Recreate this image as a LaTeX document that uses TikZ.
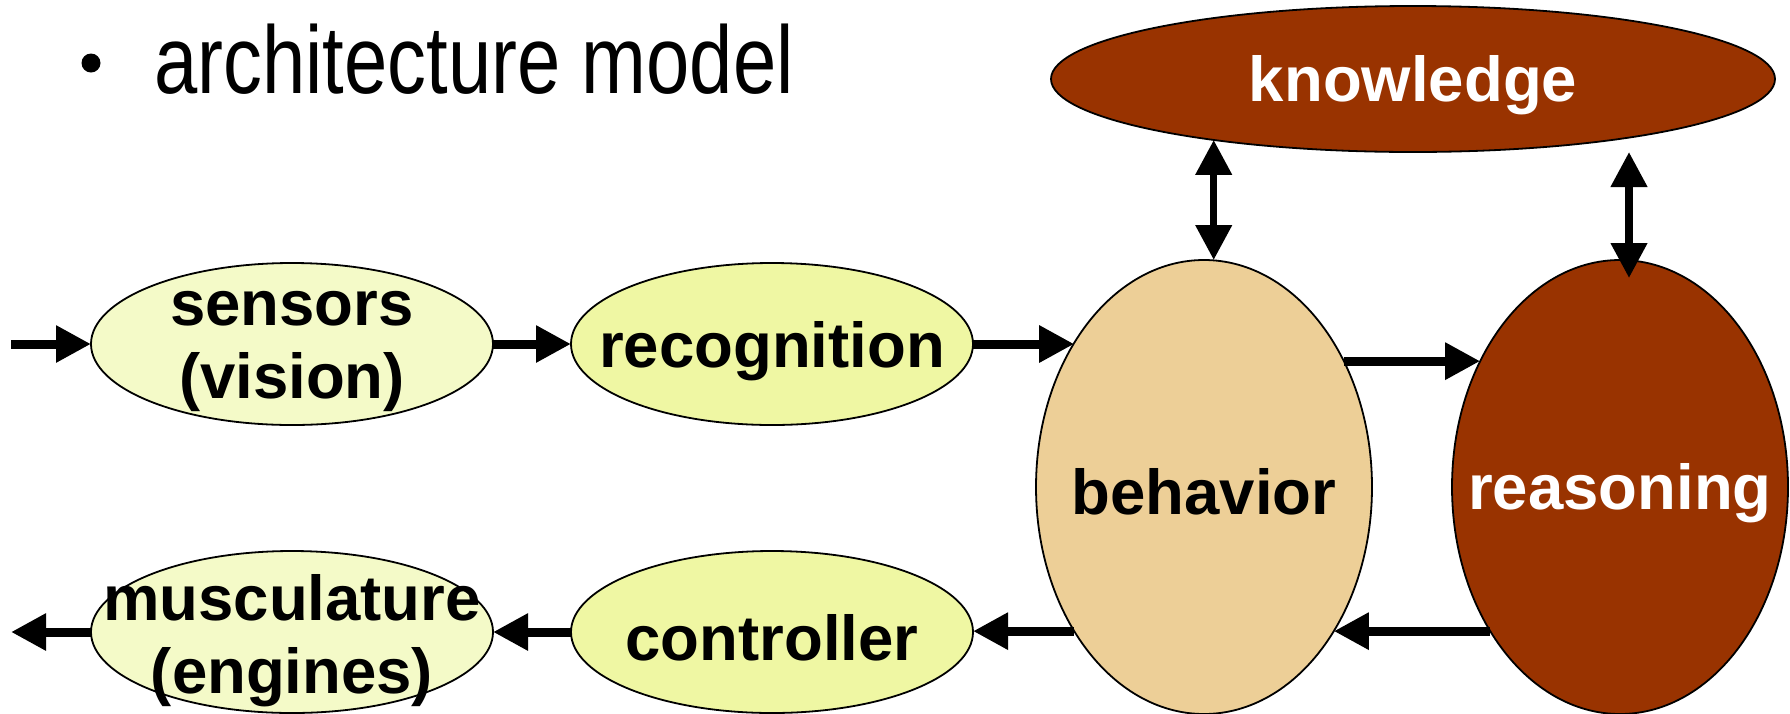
\documentclass[tikz,border=0pt]{standalone}
\usepackage{fontspec}
\setmainfont{Liberation Sans}
\usetikzlibrary{arrows.meta,shapes.geometric,calc}
\definecolor{paleyel}{HTML}{F4FAC8}
\definecolor{yel}{HTML}{EFF7A3}
\definecolor{tan}{HTML}{EDCF97}
\definecolor{rust}{HTML}{993300}
\begin{document}
\begin{tikzpicture}[x=1pt,y=-1pt,
  ell/.style={ellipse, draw=black, line width=1.8pt, inner sep=0pt, outer sep=0pt},
  small/.style={minimum width=402pt, minimum height=162pt},
  big/.style={minimum width=336pt, minimum height=454pt},
  lbl/.style={font=\bfseries\fontsize{63.5}{73}\selectfont, align=center, inner sep=0pt},
  arr/.style={line width=9pt, -{Triangle[length=35pt,width=35pt]}},
  dblarr/.style={line width=7.5pt, {Triangle[length=35pt,width=35pt]}-{Triangle[length=35pt,width=35pt]}},
]
\useasboundingbox (0,0) rectangle (1790,713);
\clip (0,0) rectangle (1790,713);
% title
\node[circle, fill=black, minimum size=19pt, inner sep=0pt] (bullet) at (91,63) {};
\node[anchor=base west, inner sep=0pt, font=\fontsize{96}{96}\selectfont] (title) at (154,93) {\scalebox{0.81}[1]{architecture model}};
% ellipses
\node[ell, small, fill=paleyel] (sensors) at (292,344) {};
\node[ell, small, fill=yel] (recognition) at (772,344) {};
\node[ell, small, fill=paleyel] (musculature) at (292,632) {};
\node[ell, small, fill=yel] (controller) at (772,632) {};
\node[ell, big, fill=tan] (behavior) at (1204,487) {};
\node[ell, big, fill=rust] (reasoning) at (1620,487) {};
\node[ell, minimum width=724pt, minimum height=146pt, fill=rust] (knowledge) at (1413,79) {};
\coordinate (in) at (11,344);
\coordinate (out) at (11,631);
% arrows
\draw[arr] (in) -- (sensors.west);
\draw[arr] (sensors.east) -- (recognition.west);
\draw[arr] (recognition.east) -- (recognition.east -| behavior.132);
\draw[arr] (behavior.42) -- (reasoning.138);
\draw[arr] (reasoning.228) -- (behavior.-48);
\draw[arr] (behavior.228) -- (behavior.228 -| controller.east);
\draw[arr] (controller.west) -- (controller.west -| musculature.east);
\draw[arr] (musculature.west) -- (musculature.west -| out);
\draw[dblarr] (knowledge.197) -- (knowledge.197 |- behavior.north);
\draw[dblarr, shorten >=-18pt] ([xshift=9pt]reasoning.north |- knowledge.south) -- ([xshift=9pt]reasoning.north);
% labels
\node[lbl] (sensorsT) at ([yshift=-7pt]sensors.center) {sensors\\(vision)};
\node[lbl] (recognitionT) at ([yshift=-7pt]recognition.center) {recognition};
\node[lbl] (musculatureT) at ([yshift=-9pt]musculature.center) {musculature\\(engines)};
\node[lbl] (controllerT) at ([yshift=-6pt]controller.center) {controller};
\node[lbl] (behaviorT) at ([yshift=-5pt]behavior.center) {behavior};
\node[lbl, text=white] (reasoningT) at ([yshift=-6pt]reasoning.center) {reasoning};
\node[lbl, text=white] (knowledgeT) at ([yshift=-6pt]knowledge.center) {knowledge};
\end{tikzpicture}
\end{document}
